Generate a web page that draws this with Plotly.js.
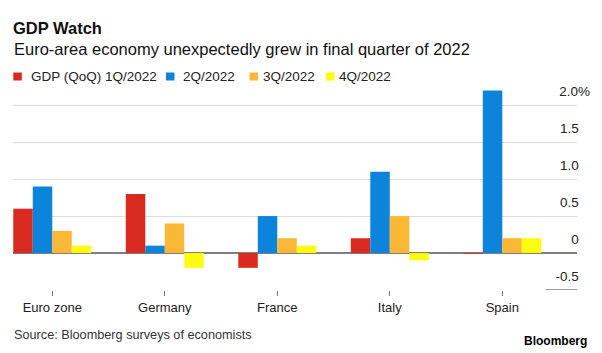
<!DOCTYPE html>
<html>
<head>
<meta charset="utf-8">
<script src="https://cdn.plot.ly/plotly-3.0.1.min.js"></script>
<style>html,body{margin:0;padding:0;background:#fff;}#chart{width:602px;height:353px;}</style>
</head>
<body>
<div id="chart"></div>
<script>
// ---- data ----
const categories = ['Euro zone', 'Germany', 'France', 'Italy', 'Spain'];
const seriesNames = ['GDP (QoQ) 1Q/2022', '2Q/2022', '3Q/2022', '4Q/2022'];
const q1_2022 = [0.6, 0.8, -0.2, 0.2, -0.01];
const q2_2022 = [0.9, 0.1, 0.5, 1.1, 2.2];
const q3_2022 = [0.3, 0.4, 0.2, 0.5, 0.2];
const q4_2022 = [0.1, -0.2, 0.1, -0.1, 0.2];
const yTickVals = [-0.5, 0, 0.5, 1, 1.5, 2];
const yTickText = ['-0.5', '0', '0.5', '1.0', '1.5', '2.0%'];
const titleText = 'GDP Watch';
const subtitleText = 'Euro-area economy unexpectedly grew in final quarter of 2022';
const sourceText = 'Source: Bloomberg surveys of economists';
const brandText = 'Bloomberg';

// ---- style ----
const colors = ['#da2a1f', '#0c84dc', '#fbb736', '#fdfc0c'];
const FONT = '"Liberation Sans", Arial, sans-serif';
const W = 602, H = 353;
const M = {l: 13, r: 25, t: 83, b: 63};
const PW = W - M.l - M.r, PH = H - M.t - M.b;
const px = v => (v - M.l) / PW;          // pixel x -> paper x
const py = v => (H - M.b - v) / PH;      // pixel y -> paper y

const values = [q1_2022, q2_2022, q3_2022, q4_2022];
const traces = values.map((vals, i) => ({
  type: 'bar',
  name: seriesNames[i],
  x: categories,
  y: vals,
  marker: {color: colors[i], line: {width: 0}},
  hoverinfo: 'x+y+name'
}));

const pad = '\u00A0\u00A0\u00A0';
const yTickLabels = yTickText.map(t => t.endsWith('%') ? t : t + pad);

// legend (drawn as annotations + squares to match the compact original)
const legendSquareX = [13.3, 166, 249.5, 326];
const legendTextX = [29, 180.5, 261, 337];
const annotations = [];
const shapes = [];
seriesNames.forEach((n, i) => {
  shapes.push({type: 'rect', xref: 'paper', yref: 'paper',
    x0: px(legendSquareX[i]), x1: px(legendSquareX[i] + 8.5),
    y0: py(80.5), y1: py(72.5),
    fillcolor: colors[i], line: {width: 0}});
  annotations.push({xref: 'paper', yref: 'paper', x: px(legendTextX[i]), y: py(76.5),
    xanchor: 'left', yanchor: 'middle', showarrow: false, text: n,
    font: {family: FONT, size: 13.5, color: '#222'}});
});
annotations.push({xref: 'paper', yref: 'paper', x: px(12), y: py(49),
  xanchor: 'left', yanchor: 'middle', showarrow: false, text: subtitleText,
  font: {family: FONT, size: 16.5, color: '#111'}});
annotations.push({xref: 'paper', yref: 'paper', x: px(12), y: py(335),
  xanchor: 'left', yanchor: 'middle', showarrow: false, text: sourceText,
  font: {family: FONT, size: 12.7, color: '#333'}});
annotations.push({xref: 'paper', yref: 'paper', x: px(589), y: py(341),
  xanchor: 'right', yanchor: 'middle', showarrow: false, text: '<b>' + brandText + '</b>',
  font: {family: FONT, size: 12, color: '#000'}});
// short rule under the -0.5 label
shapes.push({type: 'line', xref: 'paper', yref: 'y', x0: px(546), x1: px(577),
  y0: -0.5, y1: -0.5, line: {color: '#555', width: 1.2}});

const layout = {
  width: W, height: H,
  margin: M,
  paper_bgcolor: '#fff', plot_bgcolor: '#fff',
  font: {family: FONT, size: 13, color: '#222'},
  title: {text: '<b>' + titleText + '</b>', xref: 'paper', x: 0, xanchor: 'left',
    yref: 'container', y: 1 - 34 / H, yanchor: 'bottom',
    font: {family: FONT, size: 16.5, color: '#111'}},
  showlegend: false,
  barmode: 'group', bargap: 0.307, bargroupgap: 0,
  xaxis: {
    type: 'category', range: [-0.349, 4.664],
    showgrid: false, showline: false, zeroline: false,
    ticks: 'outside', ticklen: 5, tickwidth: 1, tickcolor: '#777',
    tickfont: {family: FONT, size: 13, color: '#222'}, fixedrange: true
  },
  yaxis: {
    side: 'right', range: [-0.5, 2.3],
    tickvals: yTickVals, ticktext: yTickLabels,
    ticklabelposition: 'inside top',
    ticklabelstandoff: -16, ticklabelshift: -4,
    showgrid: true, gridcolor: '#dedede', gridwidth: 1,
    zeroline: true, zerolinecolor: '#7f7f7f', zerolinewidth: 2,
    showline: false, ticks: '',
    tickfont: {family: FONT, size: 13.5, color: '#222'}, fixedrange: true
  },
  annotations: annotations,
  shapes: shapes
};

Plotly.newPlot('chart', traces, layout, {displayModeBar: false, staticPlot: true});
</script>
</body>
</html>
